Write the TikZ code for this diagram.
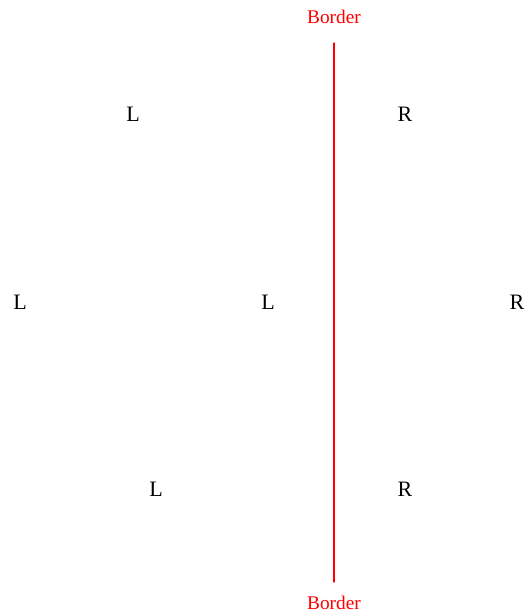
\documentclass[tikz,border=0pt]{standalone}
\usepackage{fontspec}
\setmainfont{Liberation Serif}
\usetikzlibrary{positioning}

\begin{document}
\begin{tikzpicture}[x=0.75pt,y=-0.75pt,line cap=round,line join=round]
\path[use as bounding box] (0,0) rectangle (526,613);
\tikzset{side/.style={font=\fontsize{16.5}{18}\selectfont,text=black,inner sep=0pt},
  bordertext/.style={font=\fontsize{14.5}{16}\selectfont,text=red,inner sep=0pt}}
% border line
\node[bordertext] (bordertop) at (334,17) {Border};
\node[bordertext] (borderbot) at (334,603) {Border};
\coordinate (linetop) at (334,43);
\coordinate (linebot) at (334,582);
\draw[red,line width=1.1pt] (linetop) -- (linebot);
% left side
\node[side] (l1) at (133,114) {L};
\node[side] (l2) at (20,302) {L};
\node[side] (l3) at (268,302) {L};
\node[side] (l4) at (156,489) {L};
% right side
\node[side] (r1) at (405,114) {R};
\node[side] (r2) at (517,302) {R};
\node[side] (r3) at (405,489) {R};
\end{tikzpicture}
\end{document}
